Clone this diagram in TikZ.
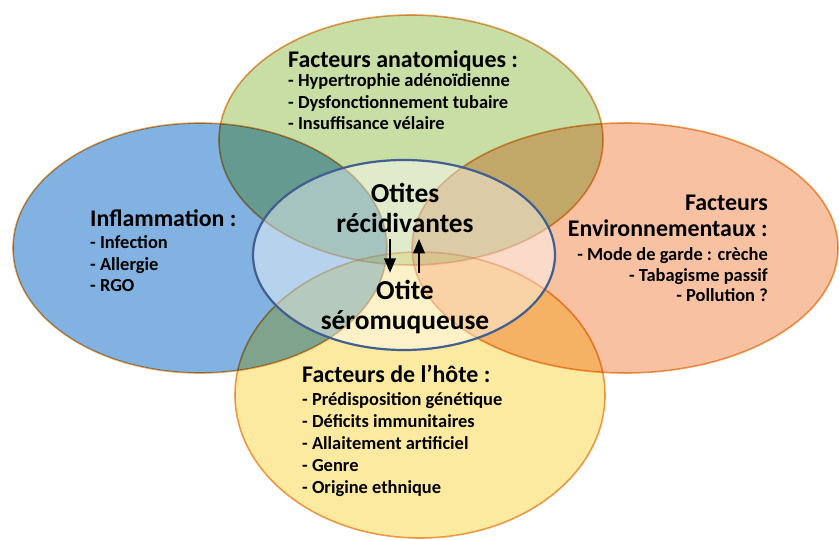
\documentclass[tikz,border=0pt]{standalone}
\usepackage{fontspec}
\setmainfont{Carlito}
\usetikzlibrary{shapes.geometric}
\usetikzlibrary{positioning}
\usetikzlibrary{arrows}
\definecolor{anatgreen}{RGB}{200,222,165}
\definecolor{inflblue}{RGB}{130,178,225}
\definecolor{envorange}{RGB}{248,194,162}
\definecolor{hoteyellow}{RGB}{252,234,160}
\definecolor{rimorange}{RGB}{240,160,85}
\definecolor{otiteblue}{RGB}{65,95,145}
\tikzstyle{zone} = [ellipse, draw=rimorange, line width=1.6bp, inner sep=0pt]
\tikzstyle{core} = [ellipse, draw=otiteblue, line width=2.2bp, fill=white,
fill opacity=0.42, inner sep=0pt]
\tikzstyle{heading} = [font=\fontsize{24}{27}\selectfont\bfseries, inner sep=0pt]
\tikzstyle{items} = [font=\fontsize{18.5}{22}\selectfont\bfseries, inner sep=0pt]
\tikzstyle{otite} = [font=\fontsize{27.5}{31}\selectfont\bfseries, inner sep=0pt,
align=center]
\tikzset{>={triangle 45}}

\begin{document}
\begin{tikzpicture}[x=1bp,y=-1bp]
  \useasboundingbox (0,0) rectangle (839,540);

  % the four factor zones
  \begin{scope}[blend group=multiply]
    \node[zone, fill=anatgreen, minimum width=384bp, minimum height=250bp] (anat) at (411,140) {};
    \node[zone, fill=inflblue, minimum width=374bp, minimum height=250bp] (infl) at (200,248) {};
    \node[zone, fill=envorange, minimum width=426bp, minimum height=250bp] (env) at (625,248) {};
    \node[zone, fill=hoteyellow, minimum width=370bp, minimum height=286bp] (hote) at (420,395) {};
  \end{scope}
  \node[core, minimum width=302bp, minimum height=190bp] (otites) at (404,255) {};

  % factor lists (base = last line)
  \node[heading, anchor=base west] (anathead) at (288,68) {Facteurs anatomiques :};
  \node[items, anchor=base west, align=left] (anatlist) at (288,130)
    {- Hypertrophie adénoïdienne\\- Dysfonctionnement tubaire\\- Insuffisance vélaire};

  \node[heading, anchor=base west] (inflhead) at (90,227) {Inflammation :};
  \node[items, anchor=base west, align=left] (infllist) at (90,292)
    {- Infection\\- Allergie\\- RGO};

  \node[heading, anchor=base east, align=right] (envhead) at (768,237)
    {Facteurs\\Environnementaux :};
  \node[items, anchor=base east, align=right, font=\fontsize{18.5}{21}\selectfont\bfseries]
    (envlist) at (768,302)
    {- Mode de garde : crèche\\- Tabagisme passif\\- Pollution ?};

  \node[heading, anchor=base west] (hotehead) at (302,382) {Facteurs de l’hôte :};
  \node[items, anchor=base west, align=left] (hotelist) at (302,493)
    {- Prédisposition génétique\\- Déficits immunitaires\\- Allaitement artificiel\\- Genre\\- Origine ethnique};

  % centre
  \node[otite, anchor=base] (recid) at (405,233) {Otites\\récidivantes};
  \node[otite, anchor=base] (sero) at (405,330) {Otite\\séromuqueuse};
  \draw[->, line width=2.4bp, shorten <=6bp, shorten >=7bp]
    ([xshift=-15bp]recid.base) -- ([xshift=-15bp]sero.north);
  \draw[->, line width=2.4bp, shorten <=7bp, shorten >=6bp]
    ([xshift=14bp]sero.north) -- ([xshift=14bp]recid.base);
\end{tikzpicture}
\end{document}
